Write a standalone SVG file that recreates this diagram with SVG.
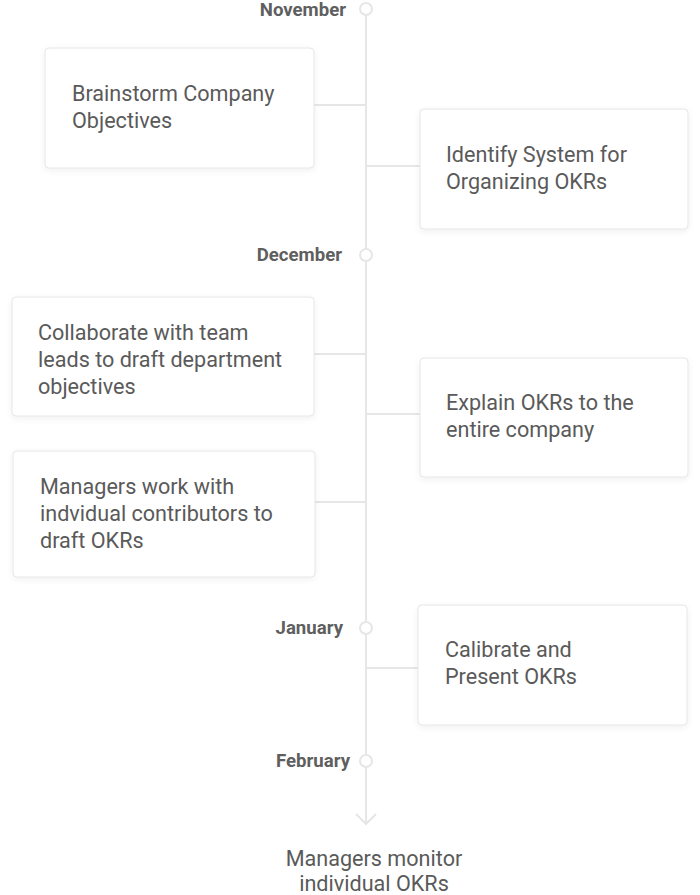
<svg xmlns="http://www.w3.org/2000/svg" width="700" height="895" viewBox="0 0 700 895">
<defs>
<filter id="sh" x="-10%" y="-10%" width="120%" height="130%">
<feDropShadow dx="0" dy="2" stdDeviation="3" flood-color="#000" flood-opacity="0.06"/>
</filter>
<style>
.card{fill:#fff;stroke:#e6e6e6;stroke-width:1;filter:url(#sh)}
.t{font-family:Roboto,"Liberation Sans",sans-serif;font-size:21.6px;fill:#5a5a5a}
.m{font-family:Roboto,"Liberation Sans",sans-serif;font-size:18.6px;font-weight:bold;fill:#5f5f5f;text-anchor:end}
.ln{stroke:#e6e6e6;stroke-width:2;fill:none}
.dot{fill:#fff;stroke:#e6e6e6;stroke-width:2}
</style>
</defs>
<rect width="700" height="895" fill="#fff"/>
<g id="connectors">
<line class="ln" x1="366" y1="15" x2="366" y2="824"/>
<polyline class="ln" points="356,814 366,824 376,814"/>
<line class="ln" x1="314" y1="105" x2="366" y2="105"/>
<line class="ln" x1="366" y1="166" x2="420" y2="166"/>
<line class="ln" x1="314" y1="354" x2="366" y2="354"/>
<line class="ln" x1="366" y1="414" x2="420" y2="414"/>
<line class="ln" x1="315" y1="502" x2="366" y2="502"/>
<line class="ln" x1="366" y1="668" x2="418" y2="668"/>
</g>
<g id="november"><circle class="dot" cx="366" cy="9" r="6"/><text class="m" x="346" y="16">November</text></g>
<g id="december"><circle class="dot" cx="366" cy="255" r="6"/><text class="m" x="342" y="261">December</text></g>
<g id="january"><circle class="dot" cx="366" cy="628" r="6"/><text class="m" x="343" y="634">January</text></g>
<g id="february"><circle class="dot" cx="366" cy="761" r="6"/><text class="m" x="350" y="767">February</text></g>
<g id="card1"><rect class="card" x="45" y="48" width="269" height="120" rx="4"/>
<text class="t" x="72" y="101">Brainstorm Company</text><text class="t" x="72" y="128">Objectives</text></g>
<g id="card2"><rect class="card" x="420" y="109" width="268" height="120" rx="4"/>
<text class="t" x="446" y="162">Identify System for</text><text class="t" x="446" y="189">Organizing OKRs</text></g>
<g id="card3"><rect class="card" x="12" y="297" width="302" height="119" rx="4"/>
<text class="t" x="38" y="340">Collaborate with team</text><text class="t" x="38" y="367">leads to draft department</text><text class="t" x="38" y="394">objectives</text></g>
<g id="card4"><rect class="card" x="420" y="358" width="268" height="119" rx="4"/>
<text class="t" x="446" y="410">Explain OKRs to the</text><text class="t" x="446" y="437">entire company</text></g>
<g id="card5"><rect class="card" x="13" y="451" width="302" height="126" rx="4"/>
<text class="t" x="40" y="494">Managers work with</text><text class="t" x="40" y="521">indvidual contributors to</text><text class="t" x="40" y="548">draft OKRs</text></g>
<g id="card6"><rect class="card" x="418" y="605" width="269" height="120" rx="4"/>
<text class="t" x="445" y="657">Calibrate and</text><text class="t" x="445" y="684">Present OKRs</text></g>
<g id="final"><text class="t" x="374" y="866" text-anchor="middle">Managers monitor</text><text class="t" x="374" y="891" text-anchor="middle">individual OKRs</text></g>
</svg>
